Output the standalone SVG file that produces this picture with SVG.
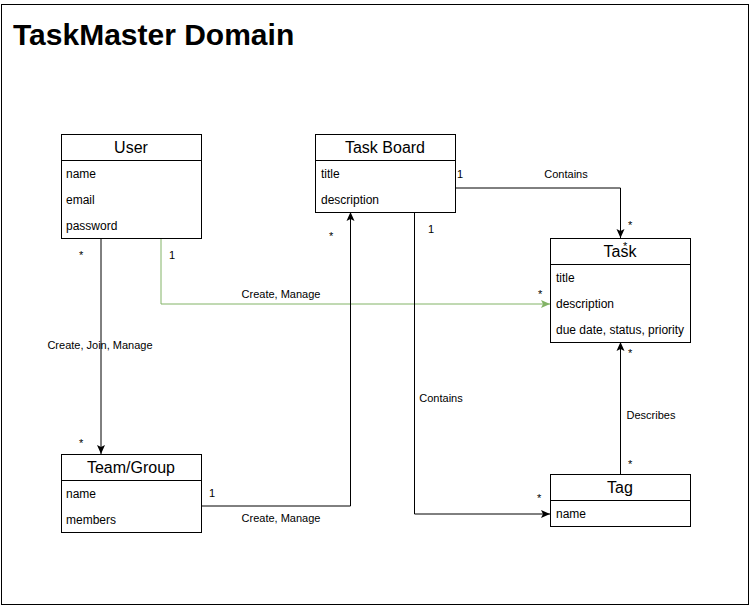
<svg xmlns="http://www.w3.org/2000/svg" width="751" height="608" viewBox="0 0 751 608">
<style>
.box{fill:#fff;stroke:#000;stroke-width:1}
.hd{font-family:"Liberation Sans",Arial,sans-serif;font-size:16px;text-anchor:middle;fill:#000}
.at{font-family:"Liberation Sans",Arial,sans-serif;font-size:12px;fill:#000}
.lb{font-family:"Liberation Sans",Arial,sans-serif;font-size:11px;fill:#000}
.c{fill:none;stroke:#000;stroke-width:1}
.g{fill:none;stroke:#82b366;stroke-width:1}
</style>
<defs>
<marker id="ab" markerWidth="11" markerHeight="11" refX="10" refY="5.5" orient="auto" markerUnits="userSpaceOnUse"><path d="M1,1.5 L10,5.5 L1,9.5 L3,5.5 Z" fill="#000"/></marker>
<marker id="ag" markerWidth="11" markerHeight="11" refX="10" refY="5.5" orient="auto" markerUnits="userSpaceOnUse"><path d="M1,1.5 L10,5.5 L1,9.5 L3,5.5 Z" fill="#82b366"/></marker>
</defs>
<rect x="0" y="0" width="751" height="608" fill="#fff"/>
<rect x="1.5" y="4.5" width="747" height="600" fill="none" stroke="#000"/>
<text x="13" y="45" font-family="Liberation Sans,Arial,sans-serif" font-size="30" font-weight="bold">TaskMaster Domain</text>
<g id="connectors">
<path class="c" d="M101,238 V454" marker-end="url(#ab)"/>
<path class="g" d="M161,238 V304 H550" marker-end="url(#ag)"/>
<path class="c" d="M201,506 H350.5 V212" marker-end="url(#ab)"/>
<path class="c" d="M455,188 H620.5 V238" marker-end="url(#ab)"/>
<path class="c" d="M414.5,212 V514 H550" marker-end="url(#ab)"/>
<path class="c" d="M620.5,474 V342" marker-end="url(#ab)"/>
<text class="lb" x="100" y="349" text-anchor="middle">Create, Join, Manage</text>
<text class="lb" x="79" y="259">*</text>
<text class="lb" x="79" y="447">*</text>
<text class="lb" x="281" y="298" text-anchor="middle">Create, Manage</text>
<text class="lb" x="169" y="259">1</text>
<text class="lb" x="538" y="298">*</text>
<text class="lb" x="209" y="497">1</text>
<text class="lb" x="281" y="522" text-anchor="middle">Create, Manage</text>
<text class="lb" x="329" y="240">*</text>
<text class="lb" x="566" y="178" text-anchor="middle">Contains</text>
<text class="lb" x="457" y="178">1</text>
<text class="lb" x="628" y="229">*</text>
<text class="lb" x="428" y="233">1</text>
<text class="lb" x="441" y="402" text-anchor="middle">Contains</text>
<text class="lb" x="537" y="502">*</text>
<text class="lb" x="651" y="419" text-anchor="middle">Describes</text>
<text class="lb" x="628" y="357">*</text>
<text class="lb" x="628" y="468">*</text>
</g>
<g id="user">
<rect class="box" x="61.5" y="134.5" width="140" height="104"/>
<line class="c" x1="61.5" y1="160.5" x2="201.5" y2="160.5"/>
<text class="hd" x="131" y="153">User</text>
<text class="at" x="66" y="178">name</text>
<text class="at" x="66" y="204">email</text>
<text class="at" x="66" y="230">password</text>
</g>
<g id="taskboard">
<rect class="box" x="315.5" y="134.5" width="140" height="78"/>
<line class="c" x1="315.5" y1="160.5" x2="455.5" y2="160.5"/>
<text class="hd" x="385" y="153">Task Board</text>
<text class="at" x="321" y="178">title</text>
<text class="at" x="321" y="204">description</text>
</g>
<g id="task">
<rect class="box" x="550.5" y="238.5" width="140" height="104"/>
<line class="c" x1="550.5" y1="264.5" x2="690.5" y2="264.5"/>
<text class="hd" x="620" y="257">Task</text>
<text class="at" x="556" y="282">title</text>
<text class="at" x="556" y="308">description</text>
<text class="at" x="556" y="334">due date, status, priority</text>
</g>
<g id="team">
<rect class="box" x="61.5" y="454.5" width="140" height="78"/>
<line class="c" x1="61.5" y1="480.5" x2="201.5" y2="480.5"/>
<text class="hd" x="131" y="473">Team/Group</text>
<text class="at" x="66" y="498">name</text>
<text class="at" x="66" y="524">members</text>
</g>
<g id="tag">
<rect class="box" x="550.5" y="474.5" width="140" height="52"/>
<line class="c" x1="550.5" y1="500.5" x2="690.5" y2="500.5"/>
<text class="hd" x="620" y="493">Tag</text>
<text class="at" x="556" y="518">name</text>
</g>
<text class="lb" x="623" y="250">*</text>
</svg>
